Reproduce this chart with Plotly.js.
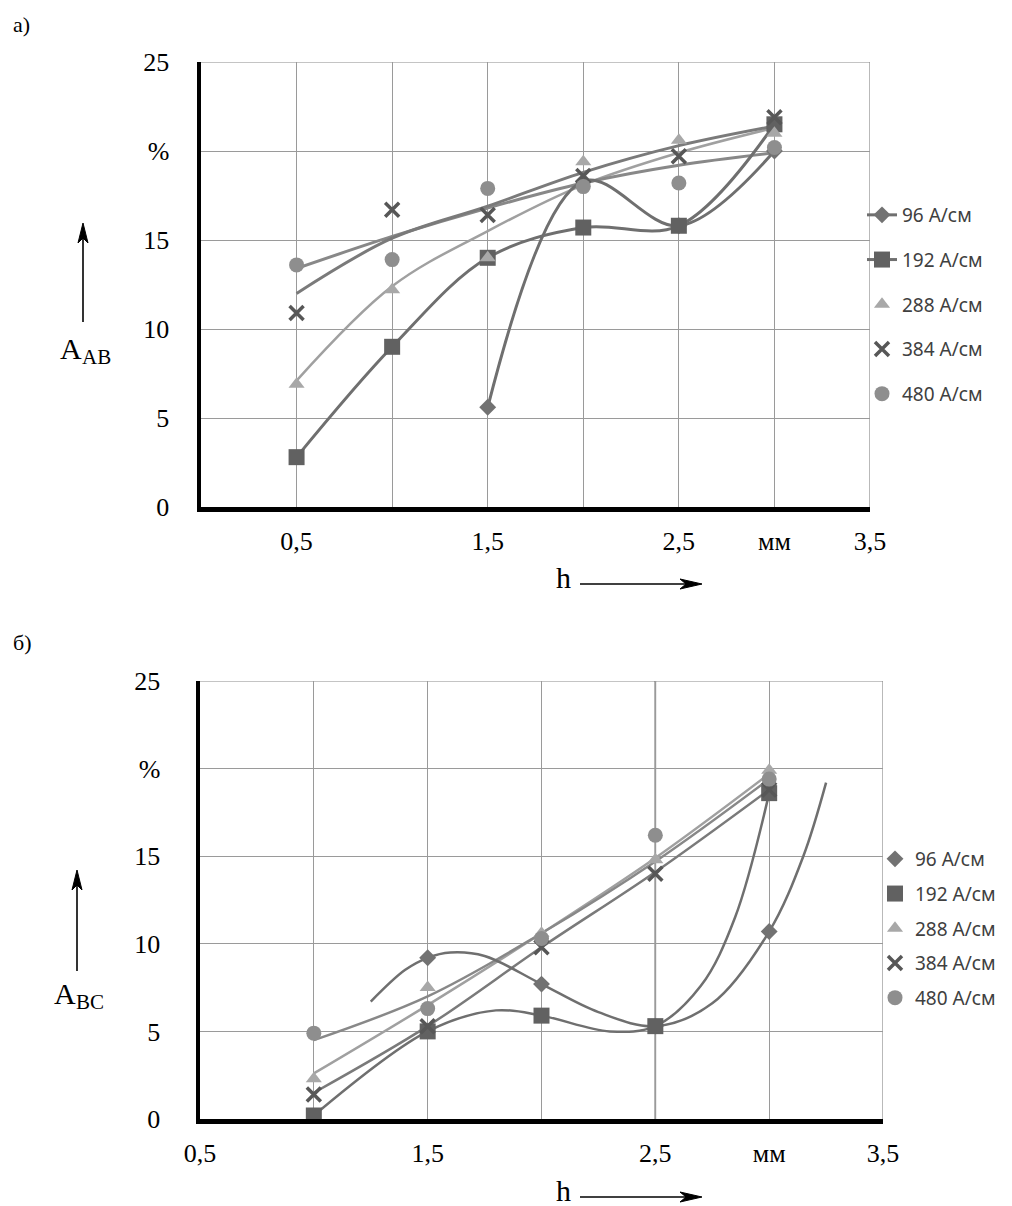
<!DOCTYPE html>
<html>
<head>
<meta charset="utf-8">
<script src="https://cdn.plot.ly/plotly-3.0.1.min.js"></script>
<style>html,body{margin:0;padding:0;background:#fff;}#chart{width:1012px;height:1206px;}</style>
</head>
<body>
<div id="chart"></div>
<script>
// ---------- DATA ----------
// tick labels
const xTickVals = [0.5, 1.5, 2.5, 3, 3.5];
const xTickText = ['0,5', '1,5', '2,5', 'мм', '3,5'];
const yTickVals = [0, 5, 10, 15, 20, 25];
const yTickText = ['0', '5', '10', '15', '%', '25'];
const seriesNames = ['96 А/см', '192 А/см', '288 А/см', '384 А/см', '480 А/см'];

// chart a) A_AB
const hA = [0.5, 1, 1.5, 2, 2.5, 3];
const a96  = [null, null, 5.6, 18.3, 15.8, 20.0];
const a192 = [2.8, 9.0, 14.0, 15.7, 15.8, 21.5];
const a288 = [6.9, 12.2, 14.0, 19.4, 20.6, 21.0];
const a384 = [10.9, 16.7, 16.4, 18.6, 19.7, 21.9];
const a480 = [13.6, 13.9, 17.9, 18.0, 18.2, 20.2];
// trend curves of chart a
const aTrend288 = [7.1, 12.4, 15.5, 18.1, 19.9, 21.3];
const aTrend384 = [12.0, 15.1, 16.9, 18.8, 20.3, 21.4];
const aTrend480 = [13.4, 15.2, 16.8, 18.2, 19.2, 19.9];

// chart б) A_BC
const hB = [1, 1.5, 2, 2.5, 3];
const b96  = [null, 9.2, 7.7, 5.3, 10.7];
const b192 = [0.2, 5.0, 5.9, 5.3, 18.6];
const b288 = [2.3, 7.5, 10.6, 14.8, 19.9];
const b384 = [1.4, 5.3, 9.8, 14.0, 18.8];
const b480 = [4.9, 6.3, 10.3, 16.2, 19.4];
// trend curves of chart б
const bTrend96X = [1.25, 1.4, 1.5, 1.6, 1.75, 2.0, 2.25, 2.5, 2.75, 3.0, 3.15, 3.25];
const bTrend96Y = [6.7, 8.5, 9.2, 9.5, 9.3, 7.7, 6.1, 5.3, 6.6, 10.7, 15.0, 19.2];
const bTrend192X = [1.0, 1.5, 1.8, 2.0, 2.3, 2.5, 2.7, 2.85, 3.0];
const bTrend192Y = [0.2, 5.0, 6.2, 5.9, 5.0, 5.3, 7.6, 11.5, 18.6];
const bTrend288 = [2.6, 6.5, 10.6, 14.9, 19.7];
const bTrend384 = [1.5, 5.3, 9.8, 14.1, 18.8];
const bTrend480 = [4.5, 7.0, 10.6, 14.7, 19.4];

// ---------- STYLE ----------
const W = 1012, H = 1206;
const col = {l96:'#6f6f6f', m96:'#727272', m192:'#616161', m288:'#a8a8a8', m384:'#575757', m480:'#8e8e8e',
             t288:'#a0a0a0', t384:'#7a7a7a', t480:'#888888'};
const serif = 'Liberation Serif, Times New Roman, serif';
const sans = 'Noto Sans, Open Sans, sans-serif';
const gridCol = '#9a9a9a';

function trend(x, y, color, xa, ya, w) {
  return {x:x, y:y, xaxis:xa, yaxis:ya, mode:'lines', line:{color:color, width:w||3, shape:'spline', smoothing:1},
          showlegend:false, hoverinfo:'skip', connectgaps:false};
}
function pts(x, y, name, sym, color, size, xa, ya, lg, withLine) {
  const t = {x:x, y:y, name:name, xaxis:xa, yaxis:ya, legend:lg, legendgroup:lg+name,
             mode: withLine ? 'lines+markers' : 'markers',
             marker:{symbol:sym, color:color, size:size}, connectgaps:false};
  if (sym === 'x-thin') { t.marker.line = {color:color, width:3.5}; }
  if (withLine) { t.line = {color:col.l96, width:3, shape:'spline', smoothing:1}; }
  return t;
}

const traces = [
  trend(hA, aTrend288, col.t288, 'x', 'y', 2.5),
  trend(hA, aTrend480, col.t480, 'x', 'y', 3),
  trend(hA, aTrend384, col.t384, 'x', 'y', 3),
  pts(hA, a96, seriesNames[0], 'diamond', col.m96, 13, 'x', 'y', 'legend', true),
  pts(hA, a192, seriesNames[1], 'square', col.m192, 16, 'x', 'y', 'legend', true),
  pts(hA, a288, seriesNames[2], 'triangle-up', col.m288, 14, 'x', 'y', 'legend', false),
  pts(hA, a384, seriesNames[3], 'x-thin', col.m384, 14, 'x', 'y', 'legend', false),
  pts(hA, a480, seriesNames[4], 'circle', col.m480, 15, 'x', 'y', 'legend', false),
  trend(hB, bTrend288, col.t288, 'x2', 'y2', 2.5),
  trend(hB, bTrend480, col.t480, 'x2', 'y2', 2.5),
  trend(hB, bTrend384, col.t384, 'x2', 'y2', 2.5),
  trend(bTrend192X, bTrend192Y, col.l96, 'x2', 'y2', 2.5),
  trend(bTrend96X, bTrend96Y, col.l96, 'x2', 'y2', 2.5),
  pts(hB, b96, seriesNames[0], 'diamond', col.m96, 13, 'x2', 'y2', 'legend2', false),
  pts(hB, b192, seriesNames[1], 'square', col.m192, 16, 'x2', 'y2', 'legend2', false),
  pts(hB, b288, seriesNames[2], 'triangle-up', col.m288, 14, 'x2', 'y2', 'legend2', false),
  pts(hB, b384, seriesNames[3], 'x-thin', col.m384, 14, 'x2', 'y2', 'legend2', false),
  pts(hB, b480, seriesNames[4], 'circle', col.m480, 15, 'x2', 'y2', 'legend2', false)
];

function xAxis(dom, rng, anchor) {
  return {domain:dom, range:rng, anchor:anchor, tickmode:'array', tickvals:xTickVals, ticktext:xTickText,
          showgrid:true, gridcolor:gridCol, gridwidth:1, zeroline:false,
          minor:{tickmode:'linear', tick0:0, dtick:0.5, showgrid:true, gridcolor:gridCol, gridwidth:1, ticks:''},
          showline:true, linecolor:'#000', linewidth:4.5, ticks:'', ticklabelstandoff:7,
          tickfont:{family:serif, size:26, color:'#000'}, fixedrange:true};
}
function yAxis(dom, anchor, standoff) {
  return {domain:dom, range:[0,25], anchor:anchor, tickvals:yTickVals, ticktext:yTickText,
          showgrid:true, gridcolor:gridCol, gridwidth:1, zeroline:false,
          showline:true, linecolor:'#000', linewidth:4.5, ticks:'', ticklabelstandoff:standoff,
          tickfont:{family:serif, size:26, color:'#000'}, fixedrange:true};
}

function px(x){return x/W;} function py(y){return 1-y/H;}

const annFont = {family:serif, size:30, color:'#000'};
const subFont = {family:serif, size:21, color:'#000'};
function txt(x, y, text, font, xanchor) {
  return {xref:'paper', yref:'paper', x:px(x), y:py(y), text:text, showarrow:false,
          xanchor:xanchor||'center', yanchor:'middle', font:font, borderpad:0};
}
const annotations = [
  txt(12, 25, 'а)', {family:serif, size:22, color:'#000'}, 'left'),
  txt(12, 642, 'б)', {family:serif, size:22, color:'#000'}, 'left'),
  txt(83, 348, 'A', annFont, 'right'),
  txt(81, 357, 'AB', subFont, 'left'),
  txt(77, 993, 'A', annFont, 'right'),
  txt(75, 1002, 'BC', subFont, 'left'),
  txt(563, 578, 'h', annFont),
  txt(563, 1190, 'h', annFont)
];

// arrows drawn as shapes (pixel positions converted to paper fractions)
function vArrow(x, yTip, yTail) {
  return [
    {type:'line', xref:'paper', yref:'paper', x0:px(x), x1:px(x), y0:py(yTip+12), y1:py(yTail), line:{color:'#000', width:1.6}},
    {type:'path', xref:'paper', yref:'paper', fillcolor:'#000', line:{color:'#000', width:1},
     path:'M'+px(x)+','+py(yTip)+' L'+px(x-5)+','+py(yTip+20)+' L'+px(x)+','+py(yTip+15)+' L'+px(x+5)+','+py(yTip+20)+' Z'}
  ];
}
function hArrow(xTail, xTip, y) {
  return [
    {type:'line', xref:'paper', yref:'paper', x0:px(xTail), x1:px(xTip-12), y0:py(y), y1:py(y), line:{color:'#000', width:1.6}},
    {type:'path', xref:'paper', yref:'paper', fillcolor:'#000', line:{color:'#000', width:1},
     path:'M'+px(xTip)+','+py(y)+' L'+px(xTip-22)+','+py(y-5)+' L'+px(xTip-16)+','+py(y)+' L'+px(xTip-22)+','+py(y+5)+' Z'}
  ];
}

const shapes = [
  {type:'line', xref:'x', yref:'y', x0:0, x1:3.5, y0:25, y1:25, line:{color:'#8a8a8a', width:1.2}, layer:'below'},
  {type:'line', xref:'x', yref:'y', x0:3.5, x1:3.5, y0:0, y1:25, line:{color:'#8a8a8a', width:1.2}, layer:'below'},
  {type:'line', xref:'x2', yref:'y2', x0:0.5, x1:3.5, y0:25, y1:25, line:{color:'#8a8a8a', width:1.2}, layer:'below'},
  {type:'line', xref:'x2', yref:'y2', x0:3.5, x1:3.5, y0:0, y1:25, line:{color:'#8a8a8a', width:1.2}, layer:'below'},
  {type:'line', xref:'x2', yref:'y2', x0:2.5, x1:2.5, y0:0, y1:25, line:{color:'#666666', width:1.6}, layer:'below'}
].concat(vArrow(83, 223, 322), vArrow(77, 870, 971), hArrow(580, 702, 584), hArrow(580, 702, 1197));

const layout = {
  width:W, height:H, margin:{l:0, r:0, t:0, b:0},
  paper_bgcolor:'#fff', plot_bgcolor:'#fff', showlegend:true,
  xaxis: xAxis([px(201), px(870)], [0, 3.5], 'y'),
  yaxis: yAxis([py(507), py(62)], 'x', 22),
  xaxis2: xAxis([px(200), px(883)], [0.5, 3.5], 'y2'),
  yaxis2: yAxis([py(1119), py(681)], 'x2', 30),
  legend: {x:px(862), y:py(196), xanchor:'left', yanchor:'top', bgcolor:'rgba(0,0,0,0)',
           font:{family:sans, size:19, color:'#404040'}, traceorder:'grouped', tracegroupgap:17},
  legend2: {x:px(875), y:py(840), xanchor:'left', yanchor:'top', bgcolor:'rgba(0,0,0,0)',
           font:{family:sans, size:19, color:'#404040'}, traceorder:'grouped', tracegroupgap:7},
  annotations: annotations,
  shapes: shapes,
  hovermode:false
};

Plotly.newPlot('chart', traces, layout, {staticPlot:true, displayModeBar:false});
</script>
</body>
</html>
